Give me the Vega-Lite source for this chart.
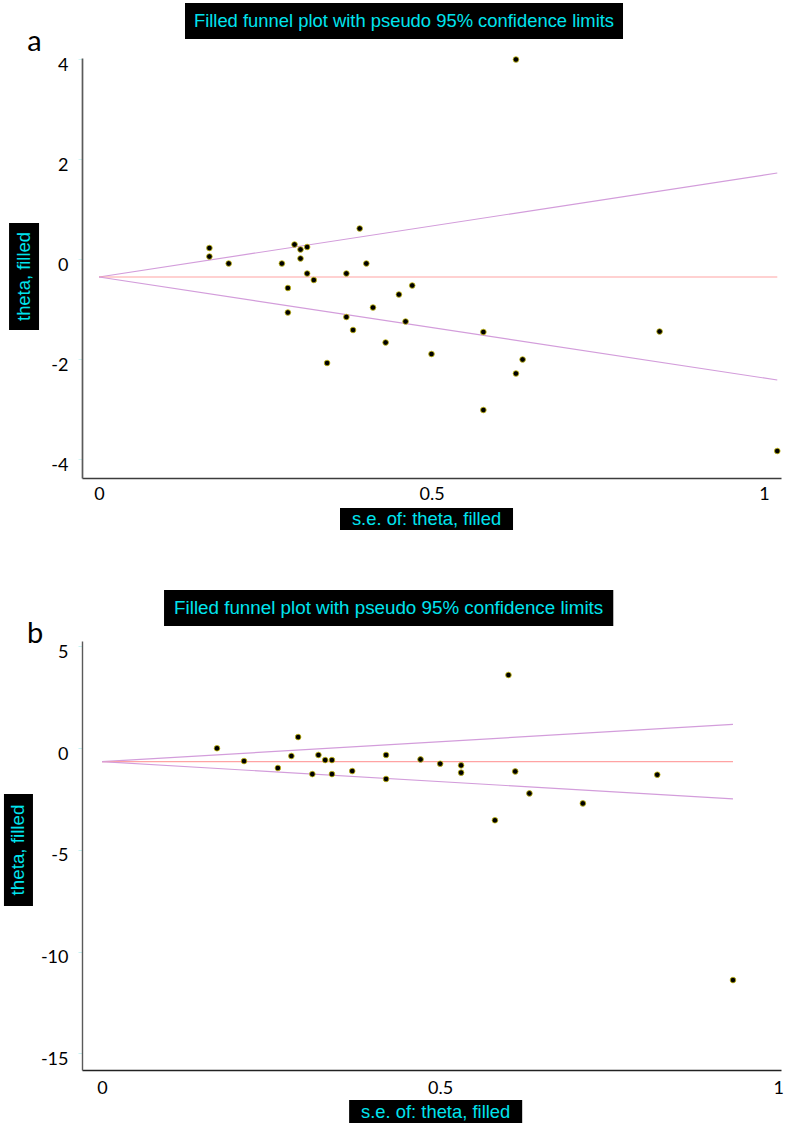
{
  "$schema": "https://vega.github.io/schema/vega-lite/v6.json",
  "background": "white",
  "padding": {"top": 2, "left": 3, "right": 5, "bottom": 3},
  "spacing": 60,
  "config": {
    "view": {"stroke": null},
    "axis": {
      "grid": false,
      "title": null,
      "labelFont": "Lato",
      "labelFontSize": 18,
      "labelColor": "#000000",
      "labelFlush": false,
      "labelOverlap": false,
      "labelExpr": "datum.value + ''"
    },
    "text": {"font": "Liberation Sans"}
  },
  "datasets": {
    "studiesA": [
      {"se": 0.166, "theta": 0.22}, {"se": 0.166, "theta": 0.05}, {"se": 0.195, "theta": -0.09},
      {"se": 0.275, "theta": -0.09}, {"se": 0.294, "theta": 0.29}, {"se": 0.303, "theta": 0.19},
      {"se": 0.313, "theta": 0.24}, {"se": 0.303, "theta": 0.01}, {"se": 0.392, "theta": 0.61},
      {"se": 0.313, "theta": -0.29}, {"se": 0.323, "theta": -0.42}, {"se": 0.372, "theta": -0.29},
      {"se": 0.402, "theta": -0.09}, {"se": 0.284, "theta": -0.58}, {"se": 0.284, "theta": -1.07},
      {"se": 0.372, "theta": -1.16}, {"se": 0.382, "theta": -1.42}, {"se": 0.343, "theta": -2.08},
      {"se": 0.412, "theta": -0.97}, {"se": 0.451, "theta": -0.71}, {"se": 0.471, "theta": -0.53},
      {"se": 0.461, "theta": -1.25}, {"se": 0.431, "theta": -1.67}, {"se": 0.5, "theta": -1.9},
      {"se": 0.627, "theta": 3.99}, {"se": 0.578, "theta": -1.46}, {"se": 0.843, "theta": -1.45},
      {"se": 0.637, "theta": -2.01}, {"se": 0.627, "theta": -2.29}, {"se": 0.578, "theta": -3.02},
      {"se": 1.02, "theta": -3.84}
    ],
    "funnelA": [
      {"se": 0, "theta": -0.36, "bound": "upper"}, {"se": 1.02, "theta": 1.72, "bound": "upper"},
      {"se": 0, "theta": -0.36, "bound": "pooled"}, {"se": 1.02, "theta": -0.36, "bound": "pooled"},
      {"se": 0, "theta": -0.36, "bound": "lower"}, {"se": 1.02, "theta": -2.42, "bound": "lower"}
    ],
    "studiesB": [
      {"se": 0.17, "theta": -0.01}, {"se": 0.21, "theta": -0.64}, {"se": 0.26, "theta": -0.98},
      {"se": 0.28, "theta": -0.39}, {"se": 0.29, "theta": 0.54}, {"se": 0.311, "theta": -1.28},
      {"se": 0.32, "theta": -0.34}, {"se": 0.33, "theta": -0.59}, {"se": 0.34, "theta": -0.59},
      {"se": 0.34, "theta": -1.28}, {"se": 0.37, "theta": -1.13}, {"se": 0.42, "theta": -0.34},
      {"se": 0.42, "theta": -1.52}, {"se": 0.471, "theta": -0.56}, {"se": 0.5, "theta": -0.77},
      {"se": 0.531, "theta": -0.85}, {"se": 0.531, "theta": -1.21}, {"se": 0.581, "theta": -3.55},
      {"se": 0.601, "theta": 3.59}, {"se": 0.611, "theta": -1.15}, {"se": 0.632, "theta": -2.23},
      {"se": 0.711, "theta": -2.72}, {"se": 0.821, "theta": -1.31}, {"se": 0.933, "theta": -11.4}
    ],
    "funnelB": [
      {"se": 0, "theta": -0.67, "bound": "upper"}, {"se": 0.933, "theta": 1.16, "bound": "upper"},
      {"se": 0, "theta": -0.67, "bound": "pooled"}, {"se": 0.933, "theta": -0.67, "bound": "pooled"},
      {"se": 0, "theta": -0.67, "bound": "lower"}, {"se": 0.933, "theta": -2.5, "bound": "lower"}
    ]
  },
  "vconcat": [
    {
      "width": 699,
      "height": 420,
      "layer": [
        {
          "data": {"name": "funnelA"},
          "mark": {"type": "line", "strokeWidth": 1.2},
          "encoding": {
            "x": {
              "field": "se", "type": "quantitative",
              "scale": {"domain": [-0.0256, 1.0256], "nice": false, "zero": false},
              "axis": {"values": [0, 0.5, 1], "tickSize": 0, "labelPadding": 7, "domainColor": "#3c3c3c", "domainWidth": 1.6}
            },
            "y": {
              "field": "theta", "type": "quantitative",
              "scale": {"domain": [-4.38, 4.02], "nice": false, "zero": false},
              "axis": {"values": [-4, -2, 0, 2, 4], "tickSize": 4, "tickColor": "#d4f6f6", "labelPadding": 10, "labelOffset": 6, "domainColor": "#5a5a5a", "domainWidth": 1.7}
            },
            "color": {
              "field": "bound", "type": "nominal", "legend": null,
              "scale": {"domain": ["upper", "pooled", "lower"], "range": ["#d39ddb", "#ffa3a3", "#d39ddb"]}
            }
          }
        },
        {
          "data": {"name": "studiesA"},
          "mark": {"type": "point", "filled": true, "fill": "#000000", "stroke": "#c9bd10", "strokeWidth": 0.8, "size": 32, "opacity": 1},
          "encoding": {
            "x": {"field": "se", "type": "quantitative"},
            "y": {"field": "theta", "type": "quantitative"}
          }
        },
        {
          "data": {"values": [{}]},
          "mark": {"type": "rect", "fill": "#000000"},
          "encoding": {
            "x": {"datum": 0.1293}, "x2": {"datum": 0.788},
            "y": {"datum": 5.12}, "y2": {"datum": 4.4}
          }
        },
        {
          "data": {"values": [{"label": "Filled funnel plot with pseudo 95% confidence limits"}]},
          "mark": {"type": "text", "color": "#00e4ee", "fontSize": 18.4, "align": "center", "baseline": "middle"},
          "encoding": {
            "x": {"datum": 0.4586}, "y": {"datum": 4.76},
            "text": {"field": "label"}
          }
        },
        {
          "data": {"values": [{}]},
          "mark": {"type": "rect", "fill": "#000000"},
          "encoding": {
            "x": {"datum": -0.1353}, "x2": {"datum": -0.0902},
            "y": {"datum": 0.72}, "y2": {"datum": -1.42}
          }
        },
        {
          "data": {"values": [{"label": "theta, filled"}]},
          "mark": {"type": "text", "color": "#00e4ee", "fontSize": 18.4, "align": "center", "baseline": "middle", "angle": 270},
          "encoding": {
            "x": {"datum": -0.1128}, "y": {"datum": -0.35},
            "text": {"field": "label"}
          }
        },
        {
          "data": {"values": [{}]},
          "mark": {"type": "rect", "fill": "#000000"},
          "encoding": {
            "x": {"datum": 0.3624}, "x2": {"datum": 0.6226},
            "y": {"datum": -4.98}, "y2": {"datum": -5.42}
          }
        },
        {
          "data": {"values": [{"label": "s.e. of: theta, filled"}]},
          "mark": {"type": "text", "color": "#00e4ee", "fontSize": 18.4, "align": "center", "baseline": "middle"},
          "encoding": {
            "x": {"datum": 0.4925}, "y": {"datum": -5.2},
            "text": {"field": "label"}
          }
        },
        {
          "data": {"values": [{"label": "a"}]},
          "mark": {"type": "text", "color": "#000000", "font": "Lato", "fontSize": 29, "align": "left", "baseline": "alphabetic"},
          "encoding": {
            "x": {"datum": -0.108}, "y": {"datum": 4.16},
            "text": {"field": "label"}
          }
        }
      ]
    },
    {
      "width": 699,
      "height": 429,
      "layer": [
        {
          "data": {"name": "funnelB"},
          "mark": {"type": "line", "strokeWidth": 1.2},
          "encoding": {
            "x": {
              "field": "se", "type": "quantitative",
              "scale": {"domain": [-0.0296, 1.004], "nice": false, "zero": false},
              "axis": {"values": [0, 0.5, 1], "tickSize": 0, "labelPadding": 9, "domainColor": "#222222", "domainWidth": 1.3}
            },
            "y": {
              "field": "theta", "type": "quantitative",
              "scale": {"domain": [-15.82, 5.26], "nice": false, "zero": false},
              "axis": {"values": [-15, -10, -5, 0, 5], "tickSize": 4, "tickColor": "#c8f3f3", "labelPadding": 10, "labelOffset": 6, "domainColor": "#5a5a5a", "domainWidth": 1.4}
            },
            "color": {
              "field": "bound", "type": "nominal", "legend": null,
              "scale": {"domain": ["upper", "pooled", "lower"], "range": ["#d39ddb", "#ffa3a3", "#d39ddb"]}
            }
          }
        },
        {
          "data": {"name": "studiesB"},
          "mark": {"type": "point", "filled": true, "fill": "#000000", "stroke": "#c9bd10", "strokeWidth": 0.8, "size": 32, "opacity": 1},
          "encoding": {
            "x": {"field": "se", "type": "quantitative"},
            "y": {"field": "theta", "type": "quantitative"}
          }
        },
        {
          "data": {"values": [{}]},
          "mark": {"type": "rect", "fill": "#000000"},
          "encoding": {
            "x": {"datum": 0.0917}, "x2": {"datum": 0.756},
            "y": {"datum": 7.76}, "y2": {"datum": 6.0}
          }
        },
        {
          "data": {"values": [{"label": "Filled funnel plot with pseudo 95% confidence limits"}]},
          "mark": {"type": "text", "color": "#00e4ee", "fontSize": 18.8, "align": "center", "baseline": "middle"},
          "encoding": {
            "x": {"datum": 0.4238}, "y": {"datum": 6.88},
            "text": {"field": "label"}
          }
        },
        {
          "data": {"values": [{}]},
          "mark": {"type": "rect", "fill": "#000000"},
          "encoding": {
            "x": {"datum": -0.145}, "x2": {"datum": -0.1021},
            "y": {"datum": -2.26}, "y2": {"datum": -7.76}
          }
        },
        {
          "data": {"values": [{"label": "theta, filled"}]},
          "mark": {"type": "text", "color": "#00e4ee", "fontSize": 18.8, "align": "center", "baseline": "middle", "angle": 270},
          "encoding": {
            "x": {"datum": -0.1235}, "y": {"datum": -5.01},
            "text": {"field": "label"}
          }
        },
        {
          "data": {"values": [{}]},
          "mark": {"type": "rect", "fill": "#000000"},
          "encoding": {
            "x": {"datum": 0.3654}, "x2": {"datum": 0.6213},
            "y": {"datum": -17.3}, "y2": {"datum": -18.43}
          }
        },
        {
          "data": {"values": [{"label": "s.e. of: theta, filled"}]},
          "mark": {"type": "text", "color": "#00e4ee", "fontSize": 18.4, "align": "center", "baseline": "middle"},
          "encoding": {
            "x": {"datum": 0.4933}, "y": {"datum": -17.86},
            "text": {"field": "label"}
          }
        },
        {
          "data": {"values": [{"label": "b"}]},
          "mark": {"type": "text", "color": "#000000", "font": "Lato", "fontSize": 29, "align": "left", "baseline": "alphabetic"},
          "encoding": {
            "x": {"datum": -0.111}, "y": {"datum": 5.16},
            "text": {"field": "label"}
          }
        }
      ]
    }
  ]
}
